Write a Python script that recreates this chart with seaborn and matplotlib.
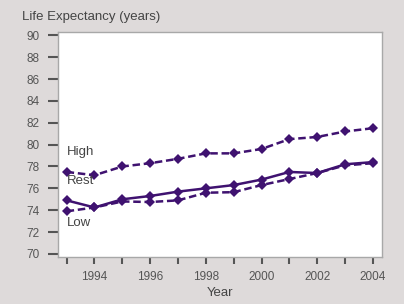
import seaborn as sns
import matplotlib.pyplot as plt
import pandas as pd

# Data
years = list(range(1993, 2005))
high = [77.5, 77.2, 78.0, 78.3, 78.7, 79.2, 79.2, 79.6, 80.5, 80.7, 81.2, 81.5]
rest = [74.9, 74.25, 75.0, 75.3, 75.7, 76.0, 76.3, 76.8, 77.5, 77.4, 78.2, 78.4]
low = [73.9, 74.25, 74.8, 74.75, 74.9, 75.6, 75.65, 76.3, 76.85, 77.4, 78.1, 78.3]
y_ticks = list(range(70, 91, 2))
x_ticks = list(range(1994, 2005, 2))

df = pd.DataFrame({"Year": years * 3,
                   "Life": high + rest + low,
                   "Group": ["High"] * 12 + ["Rest"] * 12 + ["Low"] * 12})

sns.set_style("white")
plt.rcParams["font.family"] = ["Liberation Sans", "DejaVu Sans"]

purple = "#3f1270"
bg = "#dedada"

fig = plt.figure(figsize=(4.04, 3.04), dpi=100, facecolor=bg)
ax = fig.add_axes([0.1436, 0.1546, 0.8014, 0.7401])
ax.set_facecolor("white")

sns.lineplot(data=df, x="Year", y="Life", hue="Group", style="Group",
             palette={"High": purple, "Rest": purple, "Low": purple},
             dashes={"High": (3, 1.5), "Rest": "", "Low": (3, 1.5)},
             markers={"High": "D", "Rest": "D", "Low": "D"},
             markersize=5, linewidth=1.8, markeredgewidth=0,
             legend=False, ax=ax)

ax.set_xlim(1992.69, 2004.32)
ax.set_ylim(69.72, 90.3)
ax.set_yticks(y_ticks)
ax.set_xticks(years)
ax.set_xticklabels([str(y) if y in x_ticks else "" for y in years])
ax.tick_params(axis="both", direction="out", colors="#555555",
               labelsize=8.5, width=1.5, length=5, bottom=True, left=True)
ax.tick_params(axis="y", length=7, pad=6)
ax.tick_params(axis="x", pad=5)
for s in ax.spines.values():
    s.set_color("#a8a8a8")
    s.set_linewidth(1)

ax.text(1993.0, 79.3, "High", color="#444444", fontsize=9.5, va="center")
ax.text(1993.0, 76.7, "Rest", color="#444444", fontsize=9.5, va="center")
ax.text(1993.0, 72.8, "Low", color="#444444", fontsize=9.5, va="center")

ax.set_xlabel("Year", color="#444444", fontsize=9.5, labelpad=3)
ax.set_ylabel("")
fig.text(0.054, 0.945, "Life Expectancy (years)", color="#444444",
         fontsize=9.5, va="center", ha="left")

fig.savefig("out.png", dpi=100, facecolor=bg)
plt.close()
